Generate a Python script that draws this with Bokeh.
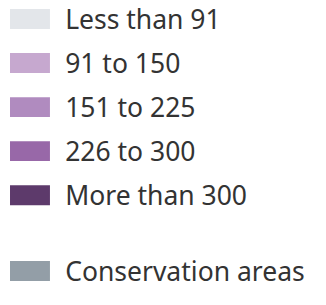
from bokeh.plotting import figure
from bokeh.embed import file_html
from bokeh.resources import INLINE
from bokeh.models import ColumnDataSource, Range1d
from bokeh.core.properties import value

labels = ["Less than 91", "91 to 150", "151 to 225", "226 to 300", "More than 300", "Conservation areas"]
colors = ["#e3e6ea", "#c6a8cf", "#b08bbf", "#9868a8", "#5d3a6b", "#939ea7"]
row_pos = [0, 1, 2, 3, 4, 5.72]

top0 = 12
step = 46.5
sw_h = 21
tops = [top0 + r * step for r in row_pos]
bottoms = [t + sw_h for t in tops]

src = ColumnDataSource(dict(
    left=[10] * len(labels), right=[52] * len(labels),
    top=tops, bottom=bottoms, color=colors, label=labels,
    tx=[68] * len(labels), ty=[t + sw_h / 2 for t in tops],
))

p = figure(width=310, height=289, output_backend="svg", toolbar_location=None,
           x_range=Range1d(0, 326), y_range=Range1d(308, 3),
           min_border=0, outline_line_color=None)
p.axis.visible = False
p.grid.visible = False
p.background_fill_color = "white"
p.border_fill_color = "white"

p.quad(left="left", right="right", top="top", bottom="bottom", fill_color="color",
       line_color=None, source=src)
p.text(x="tx", y="ty", text="label", source=src, text_font=value("Noto Sans"),
       text_font_size="26.5px", text_color="#333333", text_baseline="middle",
       text_align="left")

open("out.html", "w").write(file_html(p, INLINE))
